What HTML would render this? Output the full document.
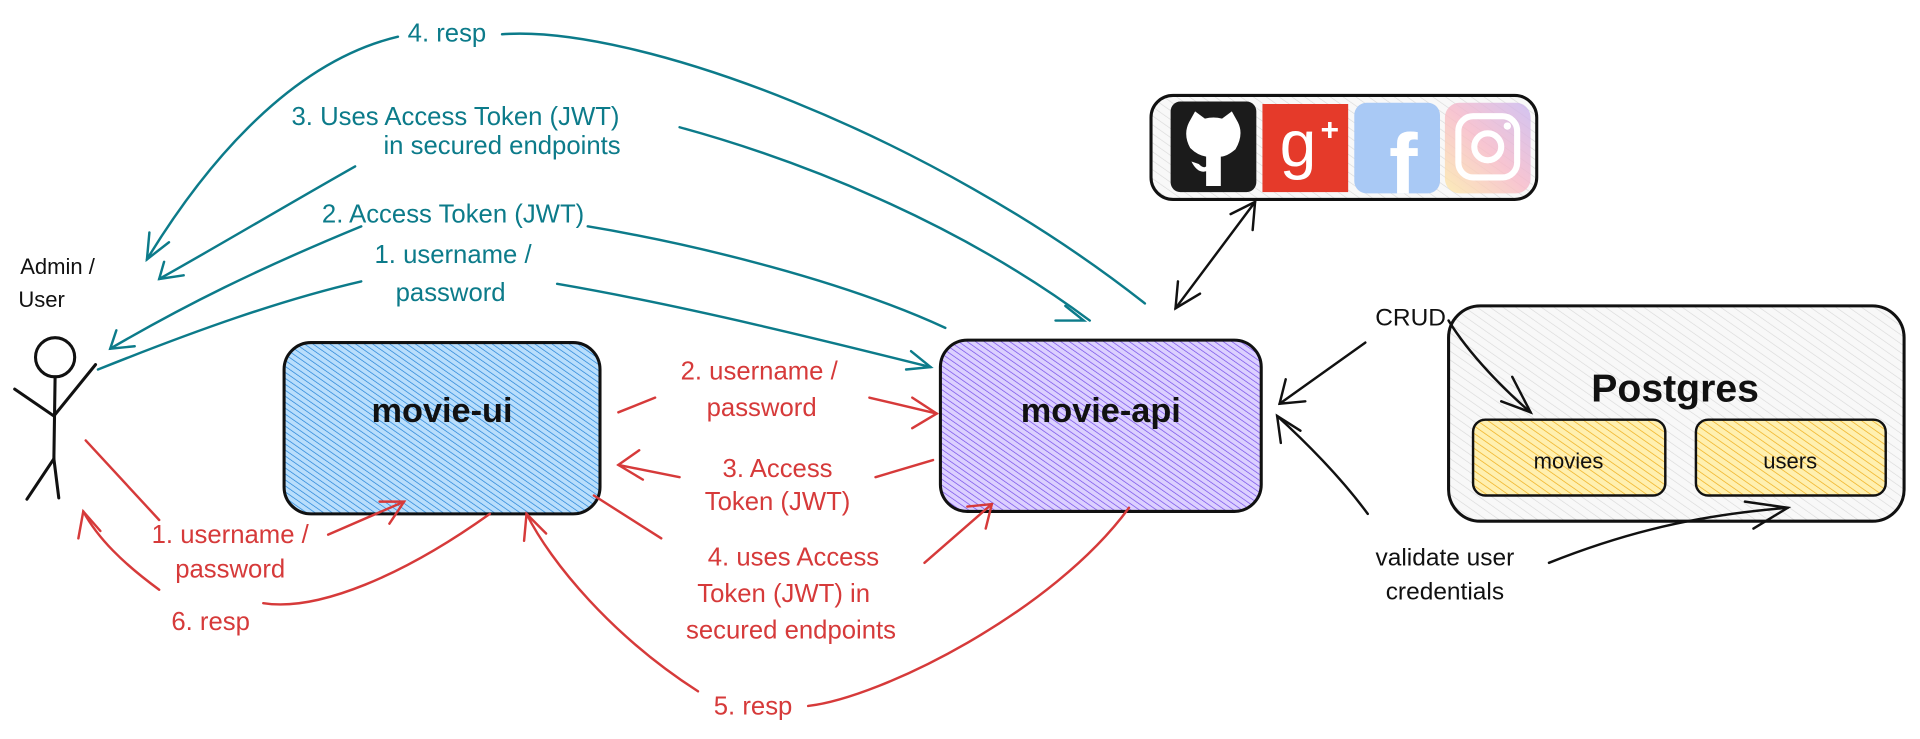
<!DOCTYPE html>
<html><head><meta charset="utf-8"><style>
html,body{margin:0;padding:0;background:#fff;width:1920px;height:739px;overflow:hidden}
svg{display:block}
text{font-family:"Liberation Sans",sans-serif}
</style></head><body>
<svg width="1920" height="739" viewBox="0 0 1568 604" preserveAspectRatio="none" xmlns="http://www.w3.org/2000/svg">
<defs>
<pattern id="hb" width="4" height="4" patternUnits="userSpaceOnUse" patternTransform="rotate(-55)"><rect width="4" height="4" fill="#b9defc"/><line x1="0" y1="0" x2="0" y2="4" stroke="#1c7ed6" stroke-width="1.1"/></pattern>
<pattern id="hv" width="4" height="4" patternUnits="userSpaceOnUse" patternTransform="rotate(-55)"><rect width="4" height="4" fill="#dcd0ff"/><line x1="0" y1="0" x2="0" y2="4" stroke="#7048e8" stroke-width="1.1"/></pattern>
<pattern id="hy" width="5" height="5" patternUnits="userSpaceOnUse" patternTransform="rotate(-55)"><rect width="5" height="5" fill="#fff0b0"/><line x1="0" y1="0" x2="0" y2="5" stroke="#f0b020" stroke-width="1.2"/></pattern>
<pattern id="hg" width="6" height="6" patternUnits="userSpaceOnUse" patternTransform="rotate(-55)"><rect width="6" height="6" fill="#f8f8f8"/><line x1="0" y1="0" x2="0" y2="6" stroke="#d8d8d8" stroke-width="1"/></pattern>
<linearGradient id="ig" x1="0" y1="1" x2="1" y2="0"><stop offset="0" stop-color="#fde9a8"/><stop offset="0.5" stop-color="#f7b8c8"/><stop offset="1" stop-color="#c9b6f0"/></linearGradient>
</defs>

<rect x="232" y="280" width="258" height="140" rx="22" fill="url(#hb)" stroke="#111" stroke-width="2.5"/>
<rect x="768" y="278" width="262" height="140" rx="22" fill="url(#hv)" stroke="#111" stroke-width="2.5"/>
<rect x="940" y="78" width="315" height="85" rx="18" fill="url(#hg)" stroke="#111" stroke-width="2.5"/>
<rect x="1183" y="250" width="372" height="176" rx="26" fill="url(#hg)" stroke="#111" stroke-width="2.5"/>
<rect x="1203" y="343" width="157" height="62" rx="10" fill="url(#hy)" stroke="#111" stroke-width="2"/>
<rect x="1385" y="343" width="155" height="62" rx="10" fill="url(#hy)" stroke="#111" stroke-width="2"/>

<rect x="956" y="83" width="70" height="74" rx="8" fill="#1b1b1b"/>
<path d="M971,100 L976,91 L984,97 Q991,95 998,97 L1006,91 L1011,100 Q1016,110 1009,122 Q1002,128 997,128 L997,152 L985,152 L985,140 Q978,142 973,132 L979,134 Q983,138 985,136 L985,128 Q978,127 972,121 Q966,110 971,100Z" fill="#fff"/>
<rect x="1031" y="85" width="70" height="72" fill="#e53a2a"/>
<text x="1060" y="136" font-family="Liberation Serif,serif" font-size="54" fill="#fff" text-anchor="middle">g</text>
<text x="1086" y="115" font-size="26" fill="#fff" text-anchor="middle" font-weight="bold">+</text>
<rect x="1106" y="84" width="70" height="74" rx="10" fill="#a9c9f5"/>
<text x="1146" y="158" font-size="70" font-weight="bold" fill="#fff" text-anchor="middle">f</text>
<rect x="1180" y="84" width="70" height="74" rx="12" fill="url(#ig)" opacity="0.8"/>
<rect x="1191" y="95" width="48" height="50" rx="12" fill="none" stroke="#fff" stroke-width="5"/>
<circle cx="1215" cy="120" r="11" fill="none" stroke="#fff" stroke-width="5"/>
<circle cx="1231" cy="103" r="3" fill="#fff"/>

<g stroke="#111" stroke-width="2.5" fill="none" stroke-linecap="round">
<circle cx="45" cy="292" r="16"/>
<line x1="45" y1="308" x2="44" y2="375"/>
<path d="M12,318 L44,340 L78,298"/>
<path d="M22,408 L44,375 L48,407"/>
</g>

<g stroke="#0c7b8a" stroke-width="2" fill="none" stroke-linecap="round">
<path d="M935,248 C760,110 520,20 410,28"/>
<path d="M325,30 C240,50 170,130 120,212"/>
<path d="M122,190 L120,212 L138,198"/>
<path d="M890,262 C780,180 650,130 555,104"/>
<path d="M290,136 C230,170 180,200 130,228"/>
<path d="M134,214 L130,228 L150,225"/>
<path d="M772,268 C690,230 570,200 480,185"/>
<path d="M295,185 C210,220 150,250 90,285"/>
<path d="M95,270 L90,285 L110,283"/>
<path d="M80,302 C160,270 230,245 295,230"/>
<path d="M455,232 C560,250 680,280 760,300"/>
<path d="M744,287 L760,300 L740,302"/>
<path d="M870,250 L885,262 L862,262"/>
</g>

<g stroke="#d63a3a" stroke-width="2" fill="none" stroke-linecap="round">
<path d="M70,360 L130,425"/>
<path d="M268,437 L330,410"/>
<path d="M310,410 L330,410 L318,428"/>
<path d="M400,420 C330,470 260,500 215,493"/>
<path d="M130,482 C100,460 80,440 68,418"/>
<path d="M64,440 L68,418 L82,434"/>
<path d="M505,337 L535,325"/>
<path d="M710,325 L765,338"/>
<path d="M745,325 L765,338 L745,350"/>
<path d="M762,376 L715,390"/>
<path d="M555,390 L505,380"/>
<path d="M522,368 L505,380 L525,392"/>
<path d="M485,405 L540,440"/>
<path d="M755,460 L810,412"/>
<path d="M790,414 L810,412 L805,432"/>
<path d="M922,415 C860,500 720,570 660,577"/>
<path d="M570,565 C500,520 450,460 430,420"/>
<path d="M428,442 L430,420 L446,436"/>
</g>

<g stroke="#111" stroke-width="2" fill="none" stroke-linecap="round">
<path d="M960,252 L1025,165"/>
<path d="M1005,175 L1025,165 L1023,188"/>
<path d="M980,240 L960,252 L962,230"/>
<path d="M1115,280 L1045,330"/>
<path d="M1050,310 L1045,330 L1066,328"/>
<path d="M1183,262 C1200,290 1230,320 1250,337"/>
<path d="M1235,308 L1250,337 L1226,328"/>
<path d="M1117,420 C1095,390 1065,360 1043,340"/>
<path d="M1046,362 L1043,340 L1062,352"/>
<path d="M1265,460 C1340,430 1400,420 1460,415"/>
<path d="M1425,410 L1460,415 L1432,432"/>
</g>

<g fill="#0c7b8a" font-size="21" text-anchor="middle">
<text x="365" y="34">4. resp</text>
<text x="372" y="102">3. Uses Access Token (JWT)</text>
<text x="410" y="126">in secured endpoints</text>
<text x="370" y="182">2. Access Token (JWT)</text>
<text x="370" y="215">1. username /</text>
<text x="368" y="246">password</text>
</g>
<g fill="#d63a3a" font-size="21" text-anchor="middle">
<text x="620" y="310">2. username /</text>
<text x="622" y="340">password</text>
<text x="635" y="390">3. Access</text>
<text x="635" y="417">Token (JWT)</text>
<text x="648" y="462">4. uses Access</text>
<text x="640" y="492">Token (JWT) in</text>
<text x="646" y="522">secured endpoints</text>
<text x="615" y="584">5. resp</text>
<text x="188" y="444">1. username /</text>
<text x="188" y="472">password</text>
<text x="172" y="515">6. resp</text>
</g>
<g fill="#111" font-size="20" text-anchor="middle">
<text x="1152" y="266">CRUD</text>
<text x="1180" y="462">validate user</text>
<text x="1180" y="490">credentials</text>
<text x="47" y="224" font-size="18">Admin /</text>
<text x="34" y="251" font-size="18">User</text>
<text x="361" y="345" font-size="28" font-weight="bold">movie-ui</text>
<text x="899" y="345" font-size="28" font-weight="bold">movie-api</text>
<text x="1368" y="328" font-size="32" font-weight="bold">Postgres</text>
<text x="1281" y="383" font-size="18">movies</text>
<text x="1462" y="383" font-size="18">users</text>
</g>
</svg>
</body></html>
